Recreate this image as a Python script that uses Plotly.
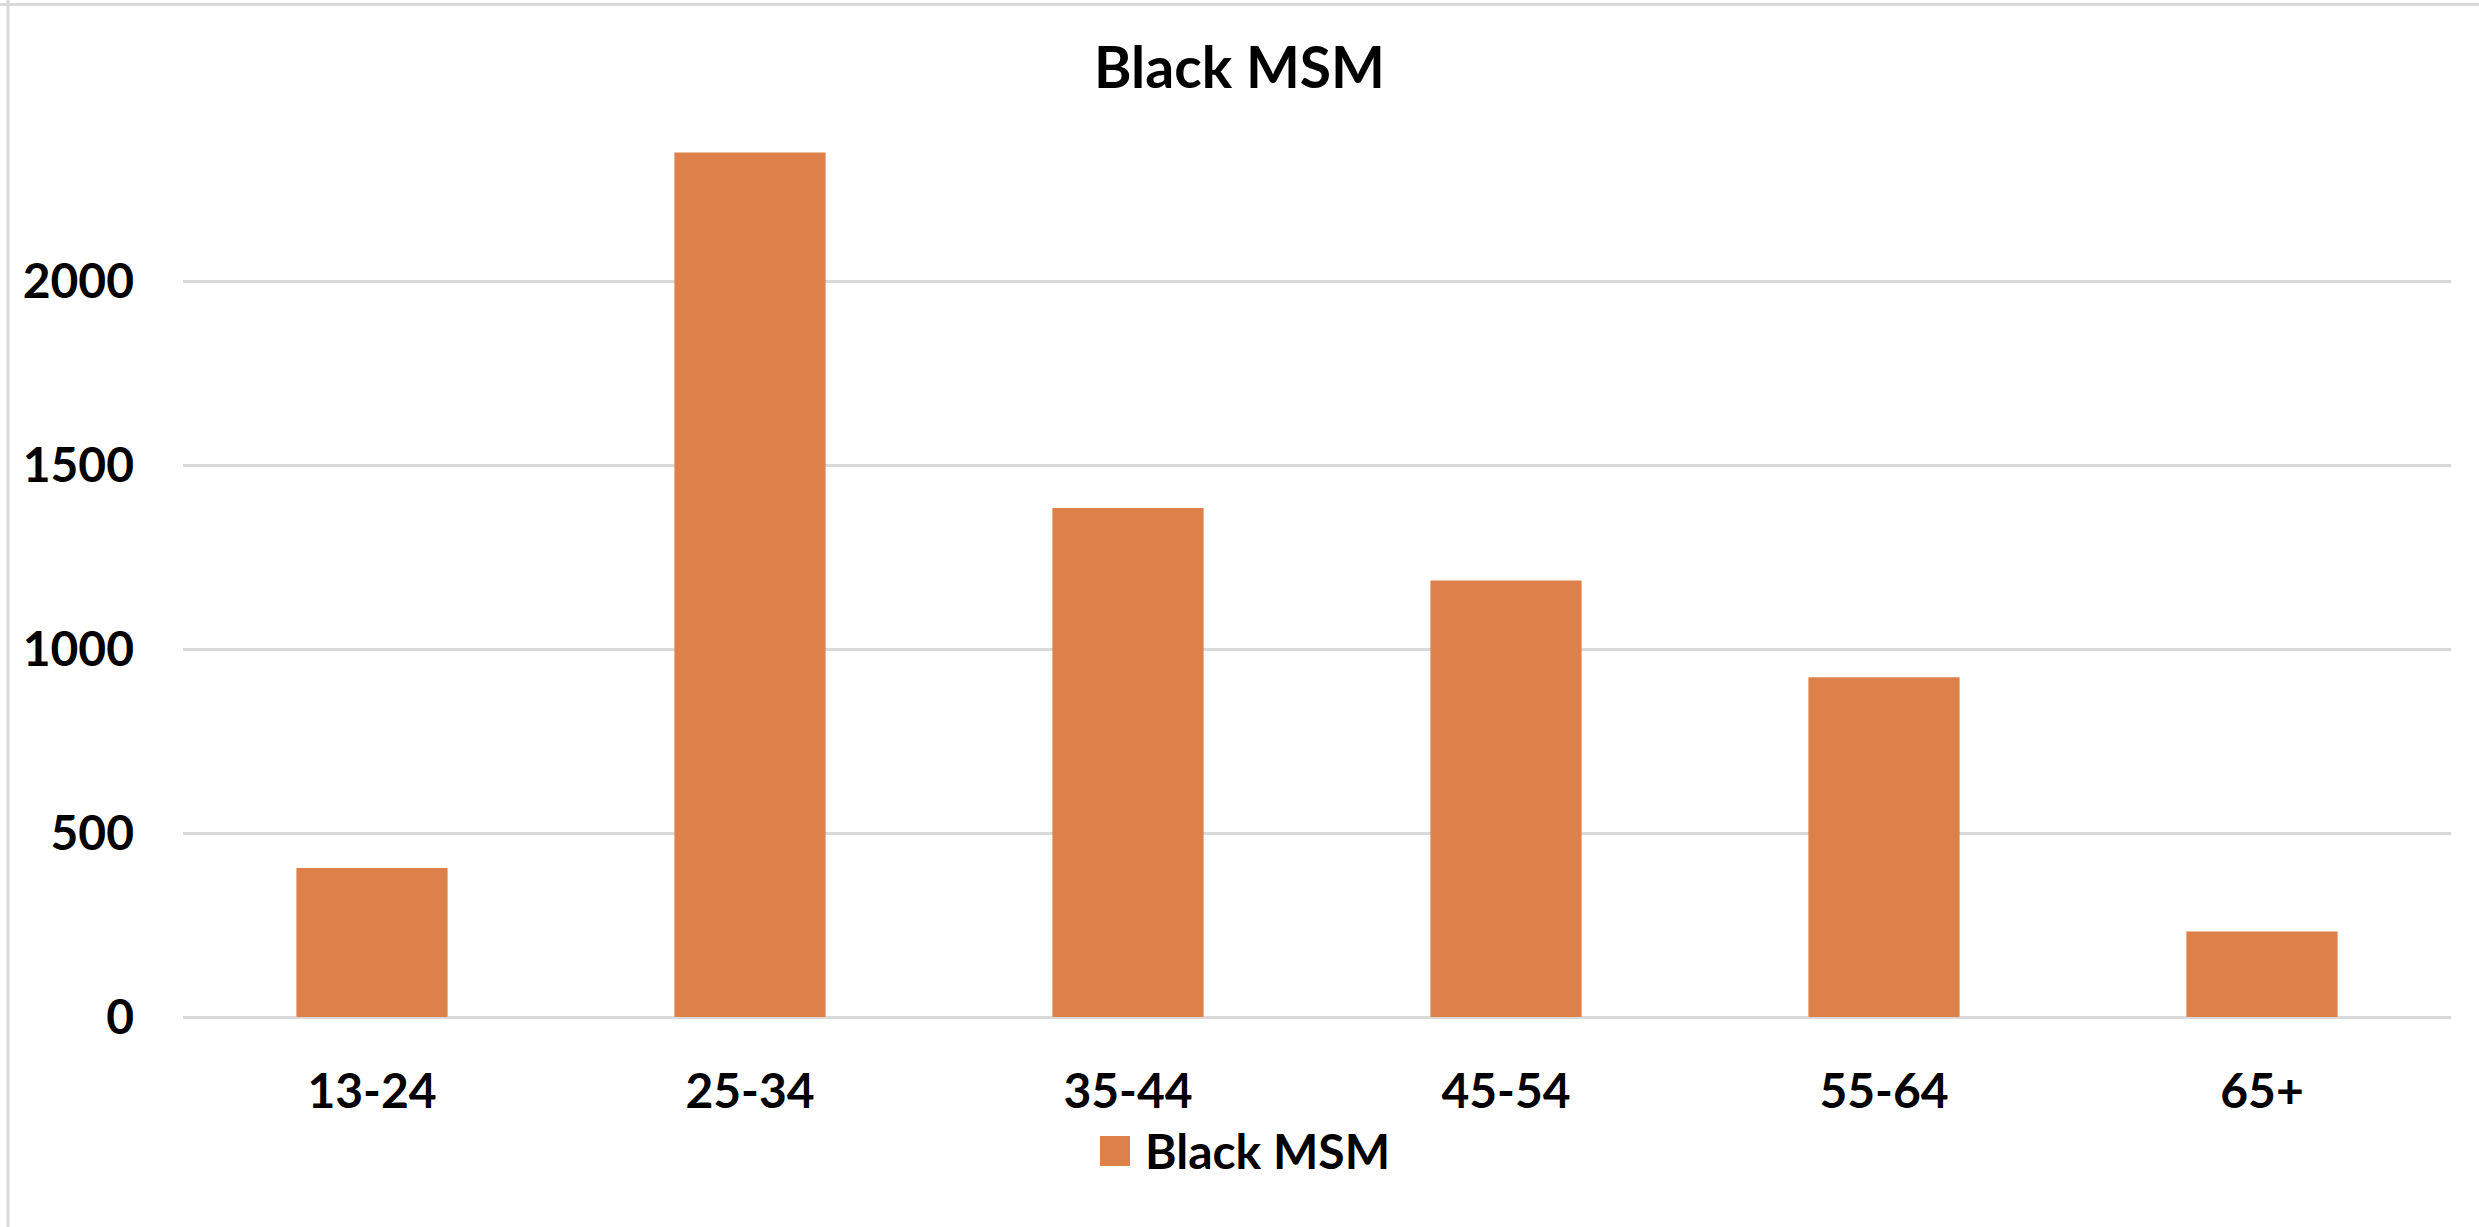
import plotly.graph_objects as go

categories = ["13-24", "25-34", "35-44", "45-54", "55-64", "65+"]
values = [405, 2349, 1383, 1186, 923, 232]
series_name = "Black MSM"
title_text = "Black MSM"
y_tickvals = [0, 500, 1000, 1500, 2000]

W, H = 2479, 1227
ML, MR, MT, MB = 183, 28, 97, 210
BAR_COLOR = "#DE8049"
GRID = "#D9D9D9"
FONT = "Lato"

fig = go.Figure()
fig.add_trace(go.Bar(x=categories, y=values, name=series_name,
                     marker=dict(color=BAR_COLOR, line=dict(width=0)),
                     showlegend=False))

# helpers: pixel -> paper coords
def px_x(x):
    return (x - ML) / (W - ML - MR)

def px_y(y):
    return (H - MB - y) / (H - MT - MB)

shapes = [
    # chart frame (top and left edges visible in the reference)
    dict(type="line", xref="paper", yref="paper", x0=px_x(0), x1=px_x(W), y0=px_y(4.5), y1=px_y(4.5),
         line=dict(color="#D9D9D9", width=3)),
    dict(type="line", xref="paper", yref="paper", x0=px_x(8), x1=px_x(8), y0=px_y(0), y1=px_y(H),
         line=dict(color="#D9D9D9", width=3)),
    # legend swatch
    dict(type="rect", xref="paper", yref="paper", x0=px_x(1100), x1=px_x(1130), y0=px_y(1166), y1=px_y(1136),
         fillcolor=BAR_COLOR, line=dict(width=0)),
]

annotations = [
    dict(text=series_name, xref="paper", yref="paper", x=px_x(1143), y=px_y(1150),
         xanchor="left", yanchor="middle", showarrow=False,
         font=dict(family=FONT, size=48, color="#000000", weight="bold")),
]

fig.update_layout(
    width=W, height=H,
    margin=dict(l=ML, r=MR, t=MT, b=MB),
    paper_bgcolor="white", plot_bgcolor="white",
    title=dict(text=title_text, x=0.5, xref="container", xanchor="center",
               y=1 - 68 / H, yref="container", yanchor="middle",
               font=dict(family=FONT, size=57, color="#000000", weight="bold")),
    bargap=0.6,
    showlegend=False,
    shapes=shapes,
    annotations=annotations,
    font=dict(family=FONT, color="#000000"),
)

fig.update_xaxes(showgrid=False, showline=False, zeroline=False, ticks="",
                 tickfont=dict(family=FONT, size=48, color="#000000", weight="bold"),
                 ticklabelstandoff=42)
fig.update_yaxes(range=[0, 2500], tickvals=y_tickvals, showgrid=True, gridcolor=GRID, gridwidth=2.5,
                 zeroline=True, zerolinecolor=GRID, zerolinewidth=2.5, showline=False, ticks="",
                 tickfont=dict(family=FONT, size=48, color="#000000", weight="bold"),
                 ticklabelstandoff=48)

fig.write_html("out.html", config={"displayModeBar": False},
               post_script="document.body.style.margin='0';")
